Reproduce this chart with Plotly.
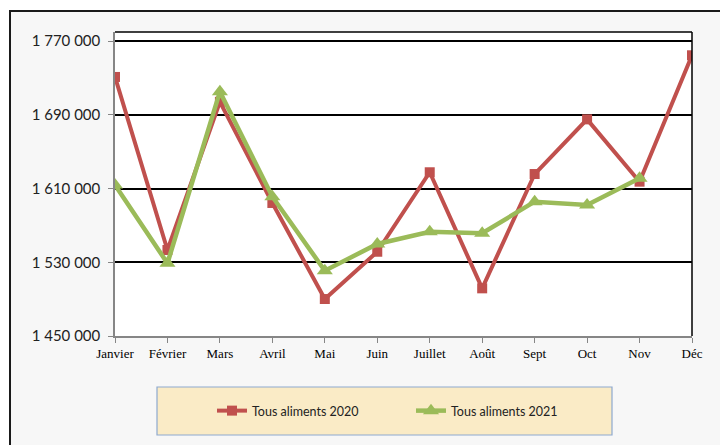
import plotly.graph_objects as go

months = ["Janvier", "Février", "Mars", "Avril", "Mai", "Juin", "Juillet",
          "Août", "Sept", "Oct", "Nov", "Déc"]
values_2020 = [1731000, 1543300, 1704000, 1594300, 1490100, 1541400, 1627600,
               1501700, 1625700, 1685000, 1617400, 1754500]
values_2021 = [1613800, 1528900, 1715000, 1601100, 1520800, 1549800, 1563100,
               1561400, 1595700, 1592100, 1621100, None]
y_ticks = [1450000, 1530000, 1610000, 1690000, 1770000]

W, H = 720, 445
L, R, T, B = 115, 692, 32, 336
pw, ph = R - L, B - T

def px(x):
    return (x - L) / pw

def py(y):
    return (B - y) / ph

fig = go.Figure()
fig.add_trace(go.Scatter(
    x=months, y=values_2020, name="Tous aliments 2020", mode="lines+markers",
    line=dict(color="#C0504D", width=4),
    marker=dict(symbol="square", size=10, color="#C0504D"),
))
fig.add_trace(go.Scatter(
    x=months, y=values_2021, name="Tous aliments 2021", mode="lines+markers",
    line=dict(color="#9BBB59", width=4.5),
    marker=dict(symbol="triangle-up", size=14, color="#9BBB59"),
))

shapes = [
    # outer frame
    dict(type="rect", xref="paper", yref="paper", x0=px(10), x1=px(730),
         y0=py(460), y1=py(11), fillcolor="#F7F7F7",
         line=dict(color="#1a1a1a", width=2), layer="below"),
    # plot area white
    dict(type="rect", xref="paper", yref="paper", x0=0, x1=1, y0=0, y1=1,
         fillcolor="white", line=dict(width=0), layer="below"),
    # legend box
    dict(type="rect", xref="paper", yref="paper", x0=px(157), x1=px(612),
         y0=py(435), y1=py(387), fillcolor="#FAEBC6",
         line=dict(color="#8EA9CF", width=1.2), layer="below"),
    # top and right borders
    dict(type="line", xref="paper", yref="paper", x0=0, x1=1, y0=1, y1=1,
         line=dict(color="black", width=1.5)),
    dict(type="line", xref="paper", yref="paper", x0=1, x1=1, y0=0, y1=1,
         line=dict(color="black", width=1.5)),
]

y_range_max = 1450000 + (B - T) / ((B - 41) / 320000)

fig.update_layout(
    width=W, height=H,
    margin=dict(l=L, r=W - R, t=T, b=H - B),
    paper_bgcolor="white", plot_bgcolor="rgba(0,0,0,0)",
    separators=", ",
    shapes=shapes,
    showlegend=True,
    legend=dict(orientation="h", x=px(212), y=py(411), xanchor="left",
                yanchor="middle", bgcolor="rgba(0,0,0,0)", borderwidth=0,
                entrywidth=154, entrywidthmode="pixels",
                font=dict(family="Lato", size=12.5, color="#222")),
    xaxis=dict(type="category", range=[0, 11], showgrid=False,
               showline=True, linecolor="#868686", linewidth=1.5,
               ticks="outside", ticklen=5, tickcolor="#868686",
               tickfont=dict(family="Liberation Serif", size=13, color="black"),
               zeroline=False),
    yaxis=dict(range=[1450000, y_range_max], tickvals=y_ticks,
               tickformat=",d", showgrid=True, gridcolor="black", gridwidth=1.5,
               showline=True, linecolor="#868686", linewidth=1.5,
               ticks="outside", ticklen=5, tickcolor="#868686",
               ticklabelstandoff=5,
               tickfont=dict(family="Lato", size=15, color="#222"),
               zeroline=False),
)

fig.write_html("out.html", config={"displayModeBar": False},
               post_script="document.body.style.margin='0';document.body.style.overflow='hidden';")
